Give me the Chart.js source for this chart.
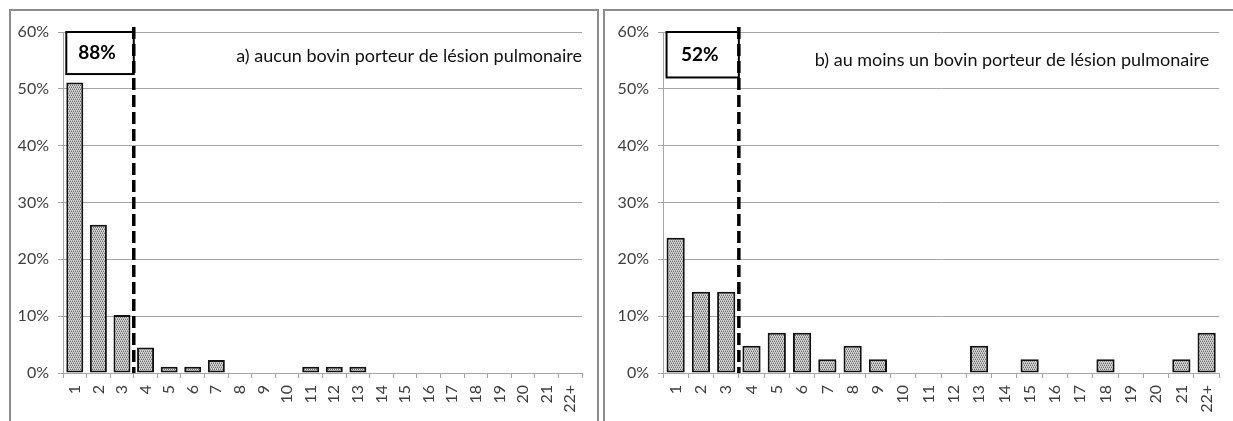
<!DOCTYPE html>
<html>
<head>
<meta charset="utf-8">
<script src="https://cdn.jsdelivr.net/npm/chart.js@4.4.1/dist/chart.umd.min.js"></script>
<style>
  html, body { margin: 0; padding: 0; background: #fff; width: 1233px; height: 421px; overflow: hidden; }
  .panel { position: absolute; top: 9px; border: 2px solid #8c8c8c; border-bottom: none; background: #fff; }
  #panelA { left: 9px; width: 586px; height: 412px; }
  #panelB { left: 603px; width: 640px; height: 412px; }
  canvas { display: block; }
</style>
</head>
<body>
<div class="panel" id="panelA"><canvas id="chartA" width="586" height="410"></canvas></div>
<div class="panel" id="panelB"><canvas id="chartB" width="628" height="410"></canvas></div>
<script>
// Categories shared by both histograms
const categories = ['1','2','3','4','5','6','7','8','9','10','11','12','13','14','15','16','17','18','19','20','21','22+'];

// a) no animal with lung lesion (%)
const valuesA = [51.1, 26.1, 10.2, 4.5, 1.1, 1.1, 2.3, 0, 0, 0, 1.1, 1.1, 1.1, 0, 0, 0, 0, 0, 0, 0, 0, 0];
// b) at least one animal with lung lesion (%)
const valuesB = [23.8, 14.3, 14.3, 4.8, 7.1, 7.1, 2.4, 4.8, 2.4, 0, 0, 0, 4.8, 0, 2.4, 0, 0, 2.4, 0, 0, 2.4, 7.1];

// Cumulative share of the first three classes, shown in the boxed label
const cumulA = '88%';
const cumulB = '52%';
const titleA = 'a) aucun bovin porteur de lésion pulmonaire';
const titleB = 'b) au moins un bovin porteur de lésion pulmonaire';

const FONT = 'Lato, "Open Sans", sans-serif';

// Fine stipple fill for the bars
function stipple() {
  const c = document.createElement('canvas');
  c.width = 4; c.height = 4;
  const g = c.getContext('2d');
  g.fillStyle = '#d4d4d4';
  g.fillRect(0, 0, 4, 4);
  g.fillStyle = '#6e6e6e';
  [[0,0],[2,0],[1,2],[3,2]].forEach(([px, py]) => g.fillRect(px, py, 1, 1));
  g.fillStyle = '#a8a8a8';
  [[1,1],[3,1],[0,3],[2,3]].forEach(([px, py]) => g.fillRect(px, py, 1, 1));
  return g.createPattern(c, 'repeat');
}

// Dashed cut line after the 3rd class, boxed cumulative label and panel caption
function markerPlugin(cfg) {
  return {
    id: 'cutMarker',
    afterDatasetsDraw(chart) {
      const { ctx, chartArea, scales: { x, y } } = chart;
      const step = x.getPixelForValue(1) - x.getPixelForValue(0);
      const cutX = x.getPixelForValue(cfg.cutIndex) + step / 2;
      const bar0 = chart.getDatasetMeta(0).data[0];
      const boxL = bar0.x - bar0.width / 2;
      const boxT = y.getPixelForValue(60);
      const boxB = y.getPixelForValue(cfg.boxBottom);
      ctx.save();
      // boxed cumulative percentage
      ctx.fillStyle = '#fff';
      ctx.fillRect(boxL, boxT, cutX - boxL, boxB - boxT);
      ctx.strokeStyle = '#000';
      ctx.lineWidth = 2;
      ctx.strokeRect(boxL, boxT, cutX - boxL, boxB - boxT);
      ctx.fillStyle = '#000';
      ctx.font = 'bold 19px ' + FONT;
      ctx.textAlign = 'center';
      ctx.textBaseline = 'middle';
      ctx.fillText(cfg.cumul, (boxL + cutX) / 2 - 3, (boxT + boxB) / 2);
      // dashed cut line
      ctx.beginPath();
      ctx.setLineDash([12, 5]);
      ctx.lineWidth = 3.5;
      ctx.moveTo(cutX, boxT - 5);
      ctx.lineTo(cutX, y.getPixelForValue(0));
      ctx.stroke();
      ctx.setLineDash([]);
      // caption
      ctx.font = '18px ' + FONT;
      ctx.fillStyle = '#111';
      ctx.textAlign = 'right';
      ctx.fillText(cfg.title, chartArea.right - cfg.titleInset, y.getPixelForValue(cfg.titleLevel));
      ctx.restore();
    }
  };
}

function makeChart(id, values, cfg) {
  const ctx = document.getElementById(id).getContext('2d');
  return new Chart(ctx, {
    type: 'bar',
    data: {
      labels: categories,
      datasets: [{
        data: values,
        backgroundColor: stipple(),
        borderColor: '#111',
        borderWidth: 2,
        borderSkipped: false,
        barPercentage: 0.72,
        categoryPercentage: 1
      }]
    },
    options: {
      responsive: false,
      animation: false,
      layout: { padding: { top: 21, right: cfg.padRight, left: 0, bottom: 0 } },
      plugins: { legend: { display: false }, tooltip: { enabled: false }, title: { display: false } },
      scales: {
        x: {
          type: 'category',
          offset: true,
          grid: { offset: true, drawOnChartArea: false, drawTicks: true, tickLength: 5, color: '#a6a6a6' },
          border: { color: '#a6a6a6', width: 1 },
          ticks: { autoSkip: false, minRotation: 90, maxRotation: 90, padding: 7, color: '#404040', font: { family: FONT, size: 16 } },
          afterFit(s) { s.height = 48; }
        },
        y: {
          min: 0, max: 60,
          grid: { color: '#a6a6a6', tickLength: 5, drawTicks: true },
          border: { color: '#a6a6a6', width: 1 },
          ticks: { stepSize: 10, padding: 9, color: '#404040', font: { family: FONT, size: 16 }, callback: v => v + '%' },
          afterFit(s) { s.width = cfg.axisWidth; }
        }
      }
    },
    plugins: [markerPlugin(cfg)]
  });
}

makeChart('chartA', valuesA, { cutIndex: 2, boxBottom: 52.6, cumul: cumulA, title: titleA, titleInset: 0, titleLevel: 55.8, padRight: 15, axisWidth: 52 });
makeChart('chartB', valuesB, { cutIndex: 2, boxBottom: 52.0, cumul: cumulB, title: titleB, titleInset: 10, titleLevel: 55.0, padRight: 7, axisWidth: 58 });
</script>
</body>
</html>
